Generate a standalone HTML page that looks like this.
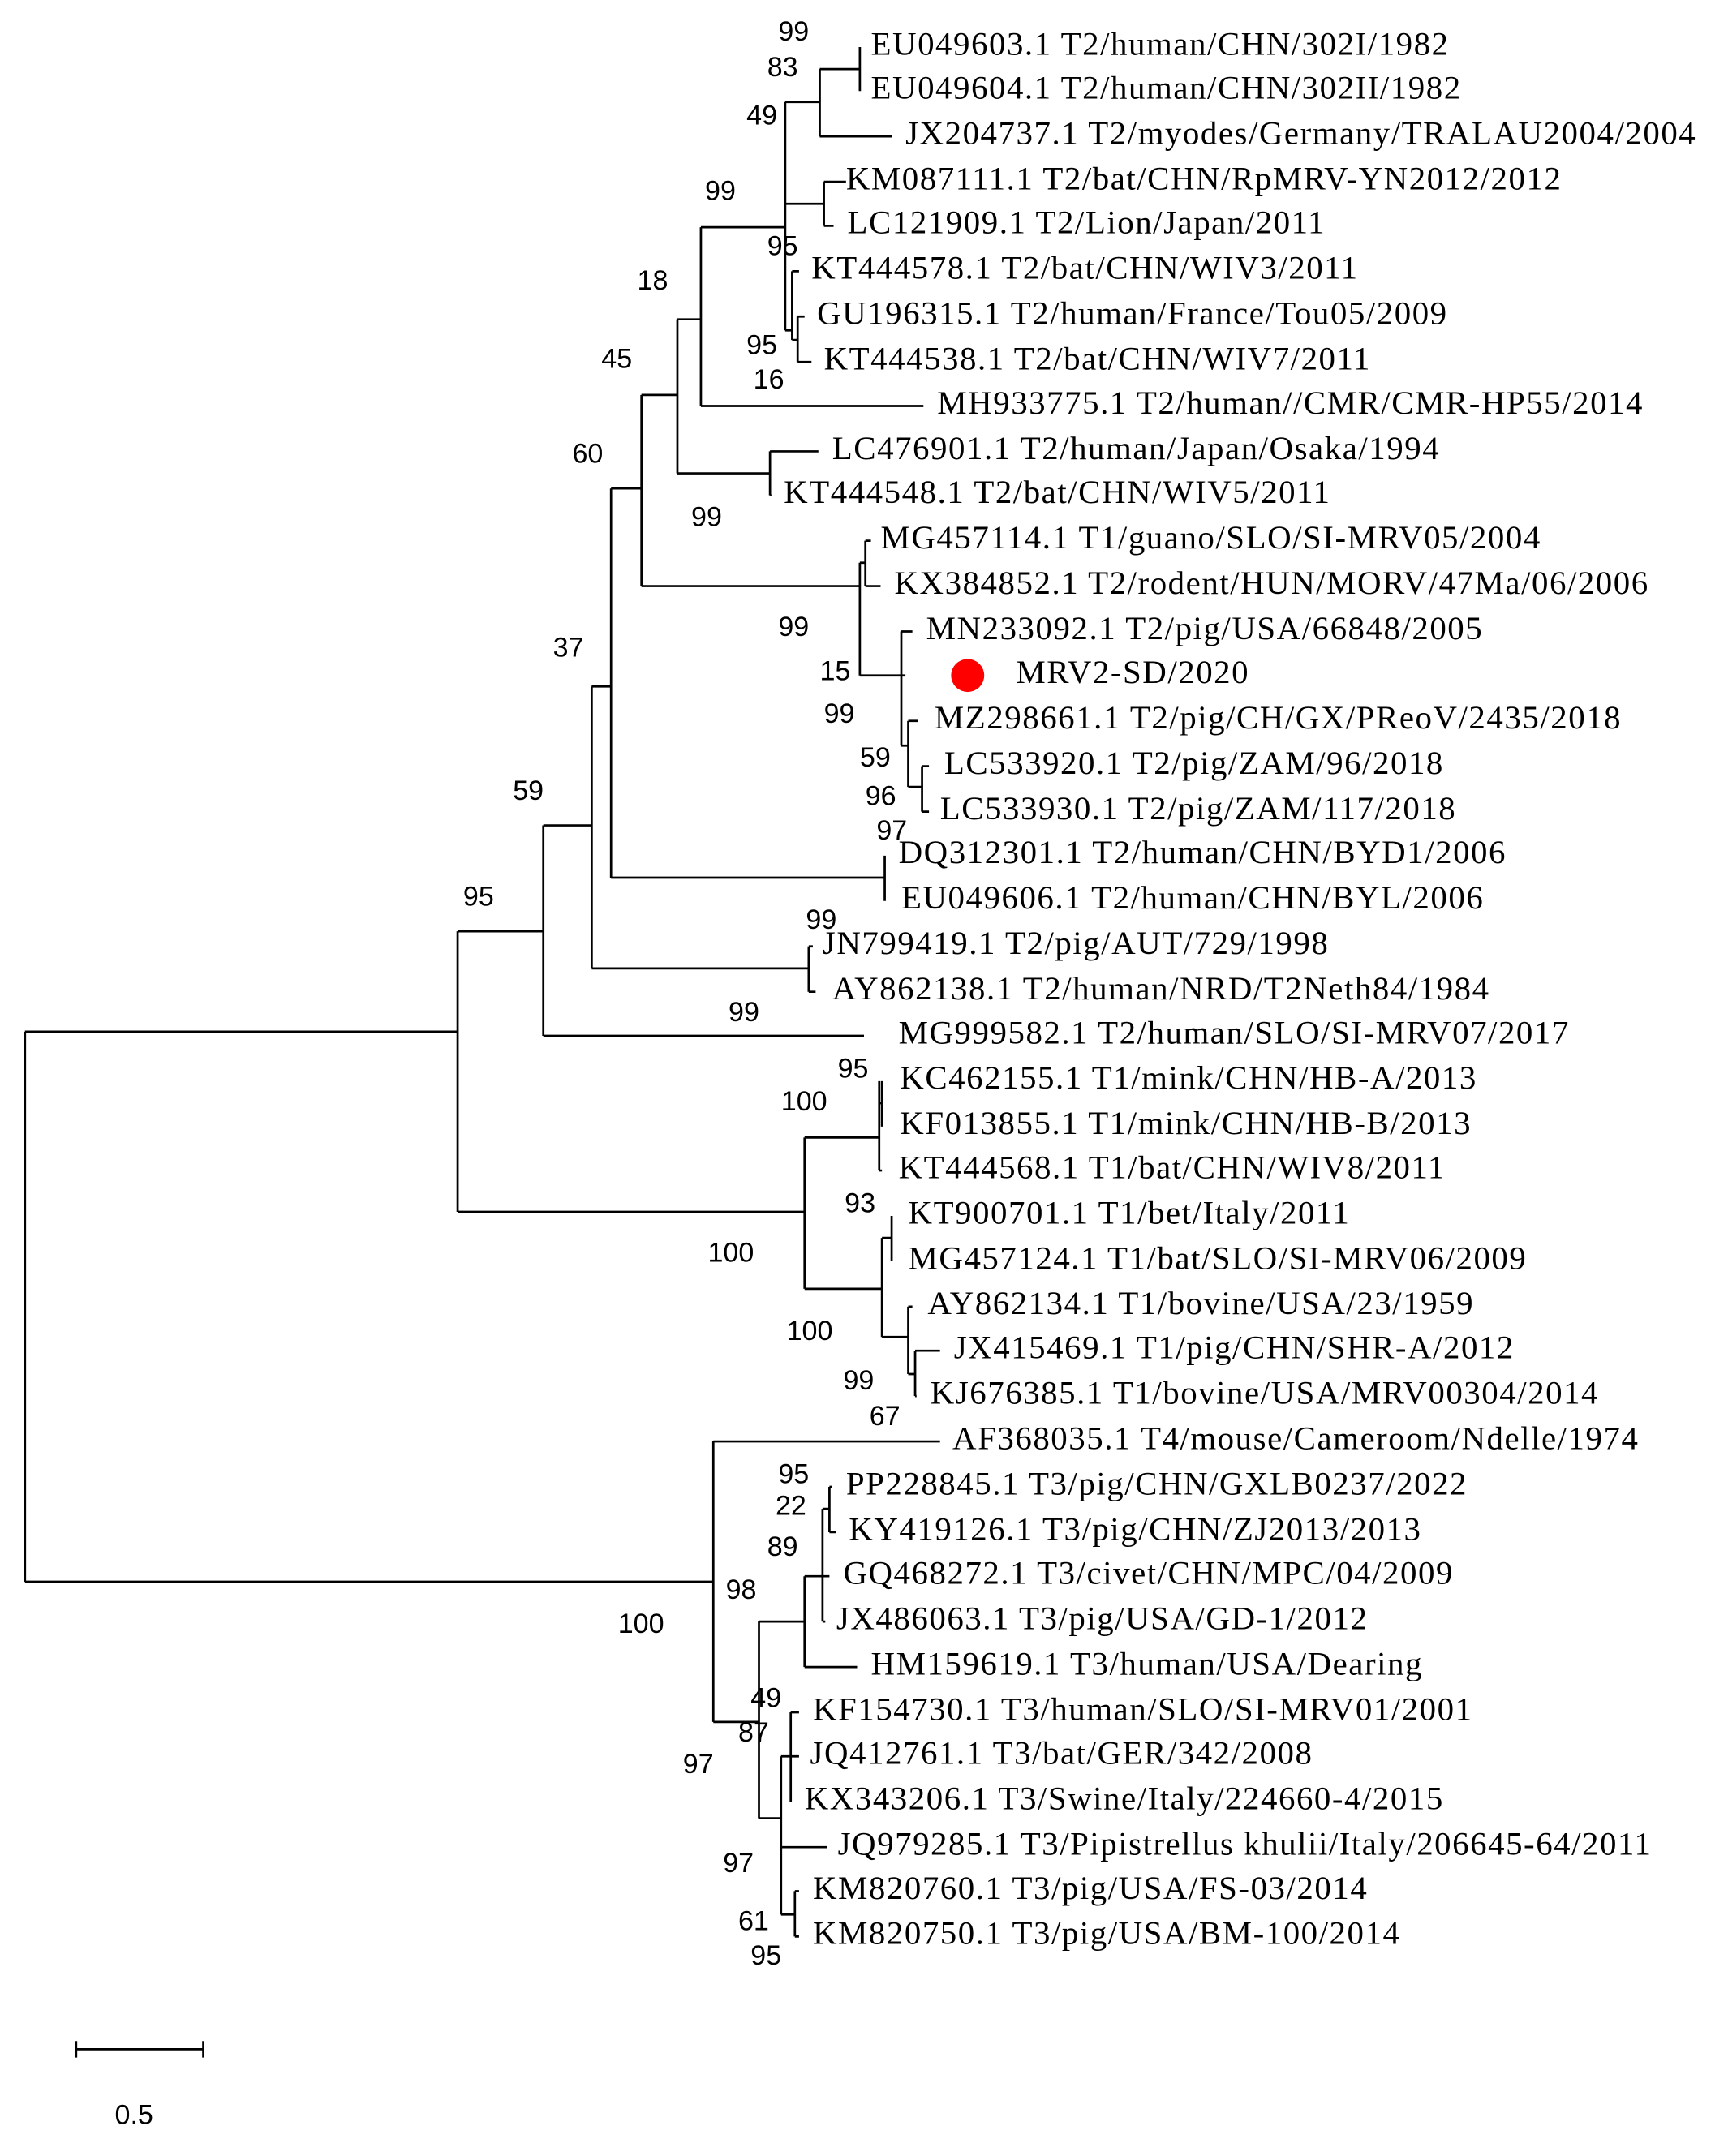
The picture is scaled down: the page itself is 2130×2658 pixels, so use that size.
<!DOCTYPE html>
<html><head><meta charset="utf-8"><style>html,body{margin:0;padding:0;background:#fff}svg{display:block}</style></head><body>
<svg width="2130" height="2658" viewBox="0 0 1250 1560" xmlns="http://www.w3.org/2000/svg">
<rect width="1250" height="1560" fill="#fff"/>
<g transform="translate(0,2.2) scale(1,0.995)">
<g stroke="#000" stroke-width="1.6" fill="none">
<path d="M18 748V1148M18 748H331M18 1148H516"/>
<path d="M331 675V879M331 675H393M331 879H582"/>
<path d="M393 598V751M393 598H428M393 751H625"/>
<path d="M428 497V702M428 497H442M428 702H585M585 686V719M585 686H588M585 719H590"/>
<path d="M442 353V636M442 353H464M442 636H640M640 620V653"/>
<path d="M464 285V424M464 285H490M464 424H622"/>
<path d="M490 230V342M490 230H507M490 342H557M557 326V358M557 326H592M557 358H558"/>
<path d="M507 163V293M507 163H568M507 293H668"/>
<path d="M568 72V238M568 72H593M568 146H596M568 238H573"/>
<path d="M593 48V97M593 48H622M593 97H645M622 32V64"/>
<path d="M596 130V162M596 130H612M596 162H603"/>
<path d="M573 195V245M573 195H578M573 245H577M577 228V261M577 228H582M577 261H587"/>
<path d="M622 407V489M622 407H626M626 391V424M626 391H630M626 424H637M622 489H652"/>
<path d="M652 457V540M652 457H660M652 489H655M652 540H657M657 522V570M657 522H664M657 570H667M667 555V588M667 555H672M667 588H672"/>
<path d="M582 825V935M582 825H636M636 784V849M636 800H638M638 784V817M636 849H638M582 935H638"/>
<path d="M638 898V970M638 898H645M645 882V915M638 970H657M657 948V997M657 948H660M657 997H662M662 980V1013M662 980H680M662 1013H663"/>
<path d="M516 1046V1250M516 1046H680M516 1250H549"/>
<path d="M549 1177V1320M549 1177H582M582 1144V1210M582 1144H595M582 1210H620"/>
<path d="M595 1095V1177M595 1095H600M600 1079V1112M600 1079H602M600 1112H605M595 1144H600M595 1177H597"/>
<path d="M549 1320H565M565 1275V1390M565 1275H572M572 1243V1308M572 1243H578M572 1275H578M572 1308H572M565 1341H598M565 1390H575M575 1373V1406M575 1373H578M575 1406H578"/>
<path d="M55 1488H147M55 1482V1494M147 1482V1494"/>
</g>
<circle cx="700" cy="489" r="12" fill="#f00"/>
<g font-family="'Liberation Serif',serif" font-size="24" letter-spacing="0.9" fill="#000" dominant-baseline="middle">
<text x="630" y="32">EU049603.1 T2/human/CHN/302I/1982</text>
<text x="630" y="64">EU049604.1 T2/human/CHN/302II/1982</text>
<text x="655" y="97">JX204737.1 T2/myodes/Germany/TRALAU2004/2004</text>
<text x="612" y="130">KM087111.1 T2/bat/CHN/RpMRV-YN2012/2012</text>
<text x="613" y="162">LC121909.1 T2/Lion/Japan/2011</text>
<text x="587" y="195">KT444578.1 T2/bat/CHN/WIV3/2011</text>
<text x="591" y="228">GU196315.1 T2/human/France/Tou05/2009</text>
<text x="596" y="261">KT444538.1 T2/bat/CHN/WIV7/2011</text>
<text x="678" y="293">MH933775.1 T2/human//CMR/CMR-HP55/2014</text>
<text x="602" y="326">LC476901.1 T2/human/Japan/Osaka/1994</text>
<text x="567" y="358">KT444548.1 T2/bat/CHN/WIV5/2011</text>
<text x="637" y="391">MG457114.1 T1/guano/SLO/SI-MRV05/2004</text>
<text x="647" y="424">KX384852.1 T2/rodent/HUN/MORV/47Ma/06/2006</text>
<text x="670" y="457">MN233092.1 T2/pig/USA/66848/2005</text>
<text x="735" y="489">MRV2-SD/2020</text>
<text x="676" y="522">MZ298661.1 T2/pig/CH/GX/PReoV/2435/2018</text>
<text x="683" y="555">LC533920.1 T2/pig/ZAM/96/2018</text>
<text x="680" y="588">LC533930.1 T2/pig/ZAM/117/2018</text>
<text x="650" y="620">DQ312301.1 T2/human/CHN/BYD1/2006</text>
<text x="652" y="653">EU049606.1 T2/human/CHN/BYL/2006</text>
<text x="595" y="686">JN799419.1 T2/pig/AUT/729/1998</text>
<text x="602" y="719">AY862138.1 T2/human/NRD/T2Neth84/1984</text>
<text x="650" y="751">MG999582.1 T2/human/SLO/SI-MRV07/2017</text>
<text x="651" y="784">KC462155.1 T1/mink/CHN/HB-A/2013</text>
<text x="651" y="817">KF013855.1 T1/mink/CHN/HB-B/2013</text>
<text x="650" y="849">KT444568.1 T1/bat/CHN/WIV8/2011</text>
<text x="657" y="882">KT900701.1 T1/bet/Italy/2011</text>
<text x="657" y="915">MG457124.1 T1/bat/SLO/SI-MRV06/2009</text>
<text x="671" y="948">AY862134.1 T1/bovine/USA/23/1959</text>
<text x="690" y="980">JX415469.1 T1/pig/CHN/SHR-A/2012</text>
<text x="673" y="1013">KJ676385.1 T1/bovine/USA/MRV00304/2014</text>
<text x="689" y="1046">AF368035.1 T4/mouse/Cameroom/Ndelle/1974</text>
<text x="612" y="1079">PP228845.1 T3/pig/CHN/GXLB0237/2022</text>
<text x="614" y="1112">KY419126.1 T3/pig/CHN/ZJ2013/2013</text>
<text x="610" y="1144">GQ468272.1 T3/civet/CHN/MPC/04/2009</text>
<text x="605" y="1177">JX486063.1 T3/pig/USA/GD-1/2012</text>
<text x="630" y="1210">HM159619.1 T3/human/USA/Dearing</text>
<text x="588" y="1243">KF154730.1 T3/human/SLO/SI-MRV01/2001</text>
<text x="586" y="1275">JQ412761.1 T3/bat/GER/342/2008</text>
<text x="582" y="1308">KX343206.1 T3/Swine/Italy/224660-4/2015</text>
<text x="606" y="1341">JQ979285.1 T3/Pipistrellus khulii/Italy/206645-64/2011</text>
<text x="588" y="1373">KM820760.1 T3/pig/USA/FS-03/2014</text>
<text x="588" y="1406">KM820750.1 T3/pig/USA/BM-100/2014</text>
</g>
<g font-family="'Liberation Sans',sans-serif" font-size="20" fill="#000" dominant-baseline="middle">
<text x="563" y="22">99</text><text x="555" y="48">83</text><text x="540" y="83">49</text>
<text x="510" y="138">99</text><text x="555" y="178">95</text><text x="461" y="203">18</text>
<text x="540" y="250">95</text><text x="545" y="275">16</text><text x="435" y="260">45</text>
<text x="414" y="329">60</text><text x="500" y="375">99</text><text x="563" y="455">99</text>
<text x="593" y="487">15</text><text x="596" y="518">99</text><text x="622" y="550">59</text>
<text x="626" y="578">96</text><text x="634" y="603">97</text><text x="400" y="470">37</text>
<text x="371" y="574">59</text><text x="335" y="651">95</text><text x="583" y="668">99</text>
<text x="527" y="735">99</text><text x="606" y="776">95</text><text x="565" y="800">100</text>
<text x="611" y="874">93</text><text x="512" y="910">100</text><text x="569" y="967">100</text>
<text x="610" y="1003">99</text><text x="629" y="1029">67</text><text x="563" y="1071">95</text>
<text x="561" y="1094">22</text><text x="555" y="1124">89</text><text x="525" y="1155">98</text>
<text x="447" y="1180">100</text><text x="543" y="1234">49</text><text x="534" y="1259">87</text>
<text x="494" y="1282">97</text><text x="523" y="1354">97</text><text x="534" y="1396">61</text>
<text x="543" y="1421">95</text>
<text x="83" y="1537">0.5</text>
</g>
</g>
</svg>
</body></html>
